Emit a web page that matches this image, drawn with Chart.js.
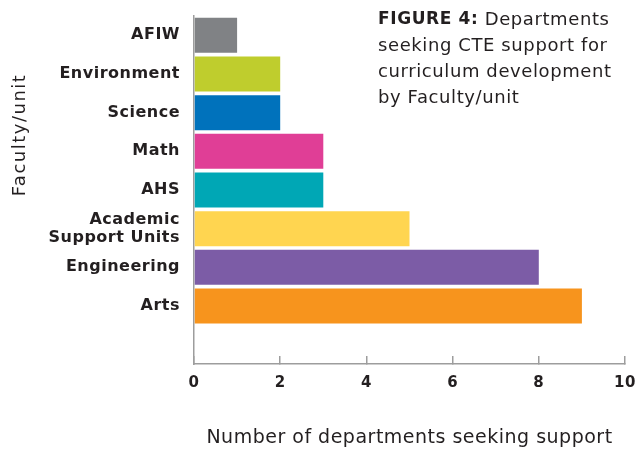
<!DOCTYPE html>
<html>
<head>
<meta charset="utf-8">
<script src="https://cdn.jsdelivr.net/npm/chart.js@4/dist/chart.umd.min.js"></script>
<style>
  html, body { margin: 0; padding: 0; background: #fff; }
  #wrap { width: 635px; height: 452px; }
</style>
</head>
<body>
<div id="wrap"><canvas id="graph1" width="635" height="452"></canvas></div>
<script>
// data
const categories = ["AFIW", "Environment", "Science", "Math", "AHS", ["Academic", "Support Units"], "Engineering", "Arts", ""];
const counts = [1, 2, 2, 3, 3, 5, 8, 9, null];
const barColors = ["#808285", "#bfcd2d", "#0072bc", "#e03e96", "#00a7b5", "#ffd550", "#7c5ca6", "#f7941d", "#ffffff"];
const captionBold = "FIGURE 4:";
const captionLines = [" Departments", "seeking CTE support for", "curriculum development", "by Faculty/unit"];
const yTitle = "Faculty/unit";
const xTitle = "Number of departments seeking support";

const textColor = "#231f20";
const axisColor = "#9d9d9d";
const fontName = '"DejaVu Sans", sans-serif';

// the source font is wide, so space the letters out a bit
const spacingPlugin = {
  id: "spacing",
  beforeLayout(chart) {
    chart.ctx.letterSpacing = "0.5px";
  },
  beforeDraw(chart) {
    chart.ctx.letterSpacing = "0.5px";
  },
};

// caption in the top right and the rotated y title
const captionPlugin = {
  id: "caption",
  afterDraw(chart) {
    const ctx = chart.ctx;
    ctx.save();
    ctx.fillStyle = textColor;
    ctx.textBaseline = "middle";
    ctx.textAlign = "left";
    ctx.letterSpacing = "0.6px";
    let x = 378;
    let y = 20;
    ctx.font = "bold 17px " + fontName;
    ctx.fillText(captionBold, x, y);
    let w = ctx.measureText(captionBold).width;
    ctx.font = "18px " + fontName;
    ctx.fillText(captionLines[0], x + w, y);
    for (let i = 1; i < captionLines.length; i++) {
      ctx.fillText(captionLines[i], x, y + i * 26);
    }
    ctx.letterSpacing = "1.5px";
    ctx.translate(20, 135);
    ctx.rotate(-Math.PI / 2);
    ctx.textAlign = "center";
    ctx.fillText(yTitle, 0, 0);
    ctx.restore();
  }
};

const context = document.getElementById("graph1").getContext("2d");
new Chart(context, {
  type: "bar",
  data: {
    labels: categories,
    datasets: [
      {
        data: counts,
        backgroundColor: barColors,
        borderWidth: 0,
        barPercentage: 1,
        categoryPercentage: 0.905,
      },
    ],
  },
  options: {
    indexAxis: "y",
    responsive: false,
    animation: false,
    layout: { padding: { top: 16, left: 0, right: 0, bottom: 0 } },
    plugins: {
      legend: { display: false },
      tooltip: { enabled: false },
    },
    scales: {
      x: {
        min: 0,
        max: 10,
        ticks: {
          stepSize: 2,
          padding: 18,
          color: textColor,
          font: { family: fontName, size: 15, weight: "bold" },
        },
        grid: {
          drawOnChartArea: false,
          drawTicks: true,
          tickLength: -8,
          color: axisColor,
          lineWidth: 1.5,
        },
        border: { display: true, color: axisColor, width: 1.5 },
        title: {
          display: true,
          text: xTitle,
          color: textColor,
          font: { family: fontName, size: 19 },
          padding: { top: 36, bottom: 3 },
        },
        afterFit(scale) {
          scale.height = 88;
          scale.paddingLeft = 0;
          scale.paddingRight = 10;
        },
      },
      y: {
        ticks: {
          autoSkip: false,
          padding: 6,
          color: textColor,
          font: { family: fontName, size: 16, weight: "bold", lineHeight: 1.1 },
        },
        grid: { display: false },
        border: { display: true, color: axisColor, width: 1.5 },
        afterFit(scale) {
          scale.width = 194;
          scale.paddingTop = 0;
          scale.paddingBottom = 0;
        },
      },
    },
  },
  plugins: [spacingPlugin, captionPlugin],
});
</script>
</body>
</html>
